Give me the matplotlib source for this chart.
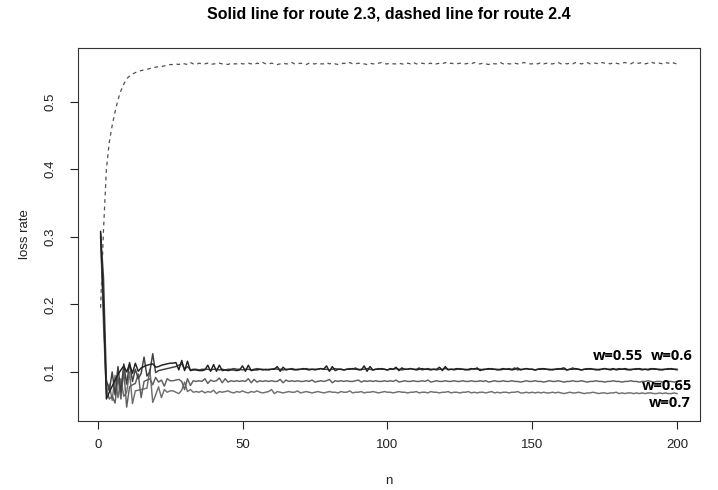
import matplotlib
matplotlib.use('Agg')
import matplotlib.pyplot as plt
import numpy as np

# loss rate per step n for route 2.3 (four weights) and route 2.4
n = np.arange(1, 201)

loss_w055 = [
    0.308, 0.200, 0.060, 0.070, 0.079, 0.088, 0.096, 0.103, 0.109, 0.100, 0.112, 0.098, 0.113, 0.101, 0.106, 0.108, 0.110, 0.111, 0.112, 0.107, 0.108, 0.110, 0.111, 0.112, 0.113,
    0.113, 0.114, 0.103, 0.117, 0.102, 0.116, 0.102, 0.103, 0.103, 0.102, 0.102, 0.103, 0.110, 0.101, 0.111, 0.101, 0.110, 0.102, 0.103, 0.102, 0.103, 0.103, 0.102, 0.103, 0.109,
    0.101, 0.110, 0.102, 0.103, 0.103, 0.104, 0.103, 0.104, 0.103, 0.104, 0.104, 0.108, 0.101, 0.107, 0.103, 0.104, 0.104, 0.103, 0.104, 0.104, 0.105, 0.104, 0.103, 0.104, 0.104,
    0.104, 0.105, 0.104, 0.109, 0.101, 0.108, 0.102, 0.104, 0.104, 0.103, 0.104, 0.104, 0.105, 0.104, 0.104, 0.103, 0.109, 0.101, 0.108, 0.103, 0.104, 0.104, 0.105, 0.104, 0.103,
    0.105, 0.104, 0.107, 0.102, 0.106, 0.104, 0.104, 0.105, 0.104, 0.103, 0.104, 0.105, 0.104, 0.104, 0.103, 0.104, 0.104, 0.107, 0.102, 0.108, 0.103, 0.104, 0.104, 0.105, 0.104,
    0.104, 0.103, 0.104, 0.105, 0.104, 0.106, 0.102, 0.104, 0.104, 0.105, 0.104, 0.104, 0.103, 0.104, 0.105, 0.104, 0.104, 0.103, 0.104, 0.106, 0.103, 0.104, 0.105, 0.104, 0.104,
    0.103, 0.104, 0.104, 0.105, 0.104, 0.104, 0.103, 0.104, 0.104, 0.105, 0.106, 0.103, 0.104, 0.104, 0.105, 0.104, 0.103, 0.104, 0.104, 0.105, 0.104, 0.104, 0.103, 0.104, 0.105,
    0.104, 0.104, 0.105, 0.103, 0.104, 0.104, 0.105, 0.104, 0.103, 0.104, 0.104, 0.105, 0.104, 0.104, 0.103, 0.104, 0.105, 0.104, 0.104, 0.103, 0.104, 0.104, 0.105, 0.104, 0.104,
]

loss_w06 = [
    0.305, 0.240, 0.088, 0.072, 0.100, 0.066, 0.108, 0.070, 0.112, 0.082, 0.114, 0.086, 0.104, 0.090, 0.098, 0.122, 0.094, 0.100, 0.127, 0.099, 0.102, 0.103, 0.104, 0.105, 0.106,
    0.107, 0.108, 0.110, 0.112, 0.104, 0.108, 0.103, 0.104, 0.104, 0.103, 0.104, 0.104, 0.104, 0.103, 0.104, 0.104, 0.103, 0.104, 0.103, 0.104, 0.104, 0.105, 0.104, 0.104, 0.103,
    0.104, 0.104, 0.103, 0.104, 0.105, 0.104, 0.104, 0.103, 0.104, 0.104, 0.105, 0.104, 0.104, 0.103, 0.104, 0.104, 0.105, 0.104, 0.103, 0.104, 0.104, 0.105, 0.104, 0.104, 0.103,
    0.104, 0.105, 0.104, 0.104, 0.103, 0.104, 0.105, 0.104, 0.104, 0.103, 0.104, 0.105, 0.104, 0.106, 0.103, 0.104, 0.104, 0.105, 0.104, 0.103, 0.104, 0.105, 0.104, 0.104, 0.103,
    0.104, 0.104, 0.105, 0.104, 0.103, 0.104, 0.104, 0.105, 0.104, 0.104, 0.106, 0.103, 0.104, 0.105, 0.104, 0.104, 0.103, 0.104, 0.104, 0.105, 0.104, 0.104, 0.103, 0.104, 0.105,
    0.104, 0.104, 0.103, 0.104, 0.105, 0.104, 0.104, 0.103, 0.104, 0.104, 0.105, 0.104, 0.104, 0.103, 0.104, 0.104, 0.105, 0.104, 0.106, 0.103, 0.104, 0.104, 0.105, 0.104, 0.104,
    0.103, 0.104, 0.105, 0.104, 0.104, 0.103, 0.104, 0.104, 0.105, 0.104, 0.104, 0.103, 0.104, 0.106, 0.104, 0.104, 0.103, 0.104, 0.105, 0.104, 0.104, 0.103, 0.104, 0.104, 0.105,
    0.104, 0.103, 0.104, 0.104, 0.105, 0.104, 0.104, 0.103, 0.104, 0.104, 0.105, 0.104, 0.103, 0.104, 0.104, 0.105, 0.104, 0.104, 0.103, 0.104, 0.104, 0.105, 0.104, 0.104, 0.103,
]

loss_w065 = [
    0.300, 0.190, 0.075, 0.060, 0.064, 0.054, 0.092, 0.060, 0.102, 0.048, 0.078, 0.081, 0.083, 0.097, 0.062, 0.086, 0.088, 0.090, 0.081, 0.092, 0.085, 0.088, 0.079, 0.090, 0.087,
    0.087, 0.088, 0.089, 0.086, 0.074, 0.090, 0.080, 0.087, 0.086, 0.087, 0.086, 0.090, 0.083, 0.088, 0.086, 0.087, 0.091, 0.084, 0.090, 0.085, 0.087, 0.086, 0.087, 0.086, 0.087,
    0.086, 0.090, 0.084, 0.089, 0.085, 0.087, 0.086, 0.087, 0.086, 0.087, 0.086, 0.086, 0.089, 0.084, 0.088, 0.086, 0.087, 0.086, 0.087, 0.086, 0.086, 0.087, 0.086, 0.088, 0.085,
    0.086, 0.087, 0.086, 0.087, 0.089, 0.084, 0.087, 0.086, 0.087, 0.086, 0.087, 0.086, 0.086, 0.087, 0.088, 0.085, 0.087, 0.086, 0.087, 0.086, 0.087, 0.086, 0.086, 0.087, 0.086,
    0.087, 0.086, 0.088, 0.085, 0.086, 0.087, 0.086, 0.086, 0.087, 0.086, 0.086, 0.087, 0.086, 0.088, 0.085, 0.086, 0.087, 0.086, 0.086, 0.087, 0.086, 0.086, 0.087, 0.086, 0.086,
    0.087, 0.086, 0.086, 0.087, 0.086, 0.086, 0.087, 0.086, 0.087, 0.085, 0.086, 0.087, 0.086, 0.086, 0.087, 0.086, 0.086, 0.087, 0.086, 0.086, 0.085, 0.086, 0.087, 0.086, 0.086,
    0.087, 0.086, 0.086, 0.085, 0.086, 0.087, 0.086, 0.086, 0.087, 0.086, 0.085, 0.086, 0.086, 0.087, 0.086, 0.086, 0.087, 0.086, 0.085, 0.086, 0.086, 0.087, 0.086, 0.086, 0.085,
    0.086, 0.086, 0.087, 0.086, 0.086, 0.085, 0.086, 0.086, 0.087, 0.086, 0.086, 0.085, 0.086, 0.086, 0.087, 0.086, 0.085, 0.086, 0.086, 0.085, 0.086, 0.086, 0.086, 0.085, 0.086,
]

loss_w07 = [
    0.302, 0.170, 0.068, 0.082, 0.058, 0.095, 0.062, 0.090, 0.064, 0.070, 0.100, 0.053, 0.072, 0.073, 0.074, 0.075, 0.076, 0.104, 0.055, 0.066, 0.078, 0.062, 0.074, 0.070, 0.072,
    0.072, 0.070, 0.068, 0.073, 0.085, 0.071, 0.074, 0.070, 0.071, 0.070, 0.072, 0.069, 0.071, 0.070, 0.073, 0.068, 0.071, 0.070, 0.071, 0.072, 0.070, 0.069, 0.071, 0.070, 0.072,
    0.070, 0.069, 0.071, 0.070, 0.072, 0.070, 0.069, 0.070, 0.071, 0.074, 0.068, 0.071, 0.070, 0.069, 0.070, 0.071, 0.070, 0.070, 0.072, 0.069, 0.070, 0.071, 0.070, 0.069, 0.070,
    0.071, 0.070, 0.069, 0.070, 0.071, 0.070, 0.070, 0.069, 0.071, 0.070, 0.070, 0.072, 0.069, 0.070, 0.070, 0.071, 0.069, 0.070, 0.070, 0.071, 0.070, 0.069, 0.070, 0.071, 0.070,
    0.070, 0.069, 0.070, 0.071, 0.070, 0.070, 0.069, 0.070, 0.070, 0.071, 0.069, 0.070, 0.070, 0.069, 0.071, 0.070, 0.070, 0.069, 0.070, 0.070, 0.071, 0.069, 0.070, 0.070, 0.069,
    0.070, 0.070, 0.071, 0.069, 0.070, 0.069, 0.070, 0.070, 0.069, 0.070, 0.071, 0.069, 0.070, 0.069, 0.070, 0.070, 0.069, 0.070, 0.070, 0.071, 0.069, 0.069, 0.070, 0.069, 0.070,
    0.069, 0.070, 0.069, 0.070, 0.069, 0.069, 0.070, 0.069, 0.070, 0.069, 0.068, 0.069, 0.070, 0.069, 0.069, 0.070, 0.069, 0.068, 0.069, 0.069, 0.070, 0.069, 0.068, 0.069, 0.069,
    0.068, 0.069, 0.069, 0.070, 0.068, 0.069, 0.068, 0.069, 0.069, 0.068, 0.069, 0.068, 0.069, 0.068, 0.069, 0.069, 0.068, 0.068, 0.069, 0.068, 0.069, 0.068, 0.068, 0.069, 0.068,
]

loss_route24 = [
    0.195, 0.310, 0.400, 0.440, 0.465, 0.485, 0.503, 0.516, 0.526, 0.534, 0.538, 0.541, 0.543, 0.545, 0.546, 0.547, 0.548, 0.549, 0.550, 0.551, 0.552, 0.552, 0.553, 0.554, 0.555,
    0.555, 0.556, 0.555, 0.557, 0.556, 0.555, 0.558, 0.556, 0.555, 0.557, 0.556, 0.556, 0.557, 0.555, 0.556, 0.556, 0.557, 0.556, 0.556, 0.555, 0.557, 0.556, 0.556, 0.557, 0.556,
    0.556, 0.557, 0.556, 0.555, 0.557, 0.556, 0.558, 0.556, 0.556, 0.557, 0.556, 0.555, 0.556, 0.557, 0.556, 0.556, 0.558, 0.556, 0.556, 0.557, 0.556, 0.555, 0.557, 0.556, 0.556,
    0.557, 0.556, 0.556, 0.558, 0.556, 0.557, 0.556, 0.555, 0.556, 0.557, 0.556, 0.558, 0.556, 0.556, 0.557, 0.556, 0.556, 0.555, 0.557, 0.556, 0.556, 0.557, 0.558, 0.556, 0.556,
    0.557, 0.556, 0.556, 0.557, 0.556, 0.555, 0.557, 0.556, 0.558, 0.556, 0.556, 0.557, 0.556, 0.556, 0.557, 0.555, 0.556, 0.557, 0.556, 0.558, 0.556, 0.557, 0.556, 0.556, 0.557,
    0.556, 0.556, 0.557, 0.556, 0.558, 0.556, 0.556, 0.557, 0.556, 0.555, 0.557, 0.556, 0.556, 0.558, 0.556, 0.557, 0.556, 0.556, 0.557, 0.556, 0.556, 0.558, 0.557, 0.556, 0.556,
    0.557, 0.556, 0.558, 0.556, 0.557, 0.556, 0.556, 0.557, 0.558, 0.556, 0.557, 0.556, 0.557, 0.556, 0.558, 0.557, 0.556, 0.557, 0.558, 0.556, 0.557, 0.557, 0.556, 0.558, 0.557,
    0.557, 0.556, 0.558, 0.557, 0.556, 0.557, 0.558, 0.557, 0.556, 0.558, 0.557, 0.557, 0.558, 0.556, 0.557, 0.559, 0.557, 0.558, 0.557, 0.556, 0.558, 0.557, 0.559, 0.557, 0.556,
]

x_ticks = [0, 50, 100, 150, 200]
y_ticks = [0.1, 0.2, 0.3, 0.4, 0.5]

plt.rcParams['font.family'] = ['Liberation Sans', 'DejaVu Sans']

fig = plt.figure(figsize=(7.18, 4.90), dpi=100)
ax = fig.add_axes([0.108, 0.141, 0.867, 0.761])

ax.plot(n, loss_route24, color='#505050', linewidth=0.9, linestyle=(0, (3, 3)))
ax.plot(n, loss_w07, color='#707070', linewidth=1.05)
ax.plot(n, loss_w065, color='#606060', linewidth=1.05)
ax.plot(n, loss_w06, color='#404040', linewidth=1.05)
ax.plot(n, loss_w055, color='#202020', linewidth=1.05)

ax.margins(x=0.04, y=0.04)
ax.set_xticks(x_ticks)
ax.set_yticks(y_ticks)
ax.set_yticklabels([str(v) for v in y_ticks], rotation=90, va='center')
ax.tick_params(axis='both', direction='out', length=6, width=0.8, labelsize=9.5, colors='#222222')
ax.tick_params(axis='y', pad=9)
ax.tick_params(axis='x', pad=7)
for s in ax.spines.values():
    s.set_linewidth(0.8)
    s.set_color('#333333')

ax.set_xlabel('n', fontsize=9.5, labelpad=17, color='#222222')
ax.set_ylabel('loss rate', fontsize=9.5, labelpad=10, color='#222222')
ax.set_title('Solid line for route 2.3, dashed line for route 2.4',
             fontsize=11.5, fontweight='bold', pad=21)

# weight labels next to the curve ends
lab = dict(fontsize=10.5, fontweight='bold', family=['Open Sans', 'DejaVu Sans'],
           ha='center', va='center')
ax.text(179.5, 0.1235, 'w=0.55', **lab)
ax.text(198.3, 0.1235, 'w=0.6', **lab)
ax.text(196.7, 0.0785, 'w=0.65', **lab)
ax.text(197.5, 0.0545, 'w=0.7', **lab)

fig.savefig('out.png', dpi=100)
